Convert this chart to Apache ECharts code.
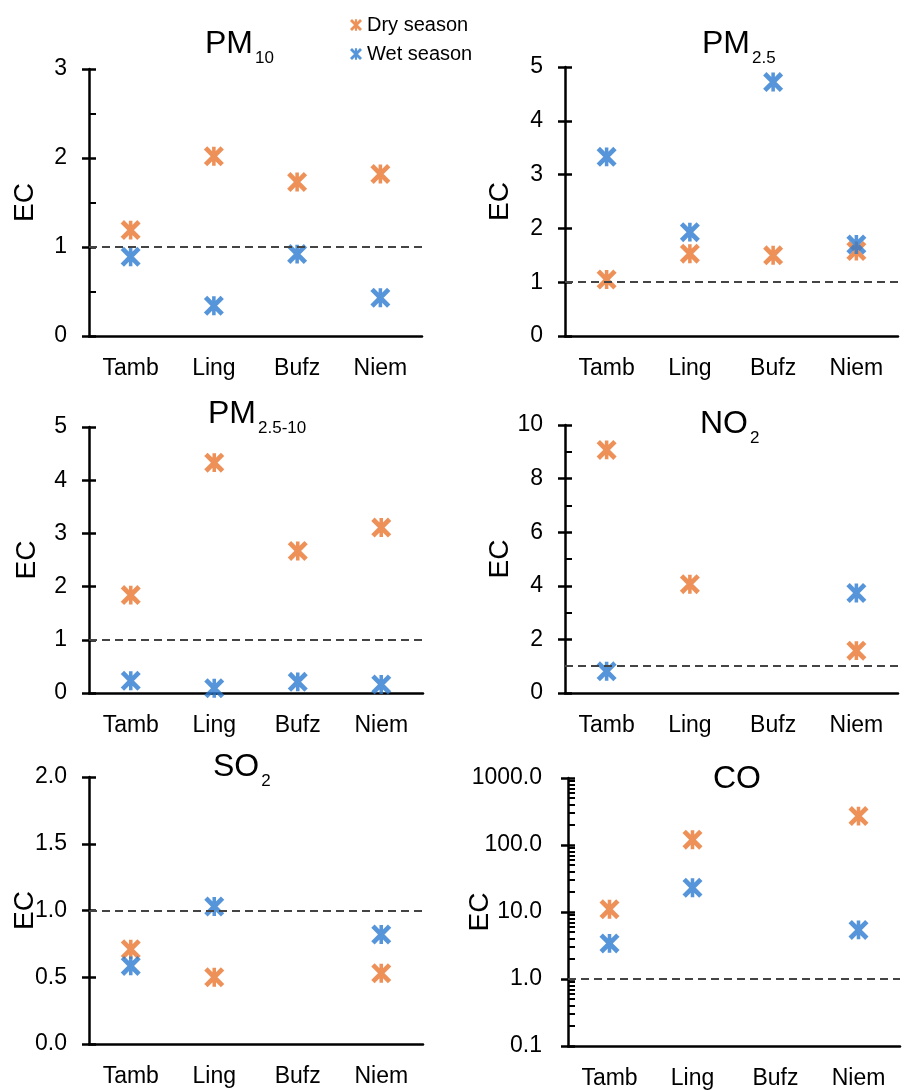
<!DOCTYPE html>
<html>
<head>
<meta charset="utf-8">
<script src="https://cdn.jsdelivr.net/npm/echarts@6/dist/echarts.min.js"></script>
<style>
html, body { margin: 0; padding: 0; background: #fff; }
#main { width: 915px; height: 1090px; }
</style>
</head>
<body>
<div id="main"></div>
<script>
var sites = ['Tamb', 'Ling', 'Bufz', 'Niem'];

var pm10Dry = [1.19, 2.02, 1.73, 1.82];
var pm10Wet = [0.89, 0.34, 0.92, 0.43];
var pm25Dry = [1.05, 1.53, 1.50, 1.58];
var pm25Wet = [3.33, 1.93, 4.72, 1.70];
var pmCoarseDry = [1.84, 4.33, 2.67, 3.11];
var pmCoarseWet = [0.23, 0.09, 0.21, 0.16];
var no2Dry = [9.07, 4.06, null, 1.58];
var no2Wet = [0.81, null, null, 3.73];
var so2Dry = [0.71, 0.50, null, 0.53];
var so2Wet = [0.585, 1.03, null, 0.82];
var coDry = [11, 120, null, 270];
var coWet = [3.4, 23, null, 5.4];

var ecLimit = 1;

var FONT = '"Liberation Sans", Arial, sans-serif';
var DRY = '#EA7630';
var WET = '#2C7ACF';
// excel "star" marker : X with a vertical bar
var STAR = 'path://M1,4 L4,1 L19,16 L16,19 Z M16,1 L19,4 L4,19 L1,16 Z M8.4,1.5 L11.6,1.5 L11.6,18.5 L8.4,18.5 Z';

// panel layout
var panels = [
	{ name: 'PM', sub: '10', tl: 205, tt: 28, grid: [89, 69, 333, 267], y: { min: 0, max: 3, interval: 1, minor: 2 }, dry: pm10Dry, wet: pm10Wet, gap: 50, lm: 22 },
	{ name: 'PM', sub: '2.5', tl: 702, tt: 28, grid: [565, 67, 333, 269], y: { min: 0, max: 5, interval: 1 }, dry: pm25Dry, wet: pm25Wet, gap: 51, lm: 22 },
	{ name: 'PM', sub: '2.5-10', tl: 208, tt: 398, grid: [89, 427, 334, 266], y: { min: 0, max: 5, interval: 1 }, dry: pmCoarseDry, wet: pmCoarseWet, gap: 48, lm: 22 },
	{ name: 'NO', sub: '2', tl: 700, tt: 408, grid: [565, 425, 333, 268], y: { min: 0, max: 10, interval: 2, minor: 2 }, dry: no2Dry, wet: no2Wet, gap: 51, lm: 22 },
	{ name: 'SO', sub: '2', tl: 213, tt: 751, grid: [89, 777, 334, 267], y: { min: 0, max: 2, interval: 0.5, fixed: 1 }, dry: so2Dry, wet: so2Wet, gap: 50, lm: 22 },
	{ name: 'CO', sub: '', tl: 713, tt: 763, grid: [568, 778, 332, 268], y: { log: true, min: 0.1, max: 1000, minor: 9, fixed: 1 }, dry: coDry, wet: coWet, gap: 74, lm: 26 }
];

var option = {
	animation: false,
	backgroundColor: '#fff',
	textStyle: { fontFamily: FONT },
	legend: {
		data: ['Dry season', 'Wet season'],
		orient: 'vertical',
		left: 345,
		top: 10,
		itemGap: 9,
		itemWidth: 12,
		itemHeight: 12,
		icon: STAR,
		textStyle: { fontSize: 20, color: '#000', fontFamily: FONT }
	},
	title: [],
	grid: [],
	xAxis: [],
	yAxis: [],
	series: []
};

panels.forEach(function(p, i) {
	option.title.push({
		text: '{a|' + p.name + '}' + (p.sub ? '{b|' + p.sub + '}' : ''),
		left: p.tl,
		top: p.tt,
		padding: 0,
		textStyle: {
			rich: {
				a: { fontSize: 32, lineHeight: 32, verticalAlign: 'top', fontWeight: 'normal', color: '#000', fontFamily: FONT },
				b: { fontSize: 17, lineHeight: 17, verticalAlign: 'top', fontWeight: 'normal', padding: [22, 0, 0, 2], color: '#000', fontFamily: FONT }
			}
		}
	});

	option.grid.push({
		left: p.grid[0],
		top: p.grid[1],
		width: p.grid[2],
		height: p.grid[3]
	});

	option.xAxis.push({
		type: 'category',
		gridIndex: i,
		data: sites,
		axisLine: { lineStyle: { color: '#000', width: 2.5 } },
		axisTick: { length: 7, lineStyle: { color: '#000', width: 2.5 } },
		axisLabel: { fontSize: 23, color: '#000', margin: 21, fontFamily: FONT },
		splitLine: { show: false }
	});

	var fmt = function(v) {
		return p.y.fixed ? Number(v).toFixed(p.y.fixed) : String(v);
	};
	var base = {
		gridIndex: i,
		position: 'left',
		min: p.y.min,
		max: p.y.max,
		splitLine: { show: false }
	};
	if (p.y.log) {
		base.type = 'log';
		base.logBase = 10;
	} else {
		base.type = 'value';
		base.interval = p.y.interval;
	}

	// y axis with labels and outside ticks
	option.yAxis.push(Object.assign({}, base, {
		name: 'EC',
		nameLocation: 'middle',
		nameGap: p.gap,
		nameMoveOverlap: false,
		nameTextStyle: { fontSize: 28, color: '#000', fontFamily: FONT },
		axisLine: { show: true, lineStyle: { color: '#000', width: 2.5 } },
		axisTick: { show: true, length: 7, lineStyle: { color: '#000', width: 2.5 } },
		axisLabel: { fontSize: 23, color: '#000', margin: p.lm, fontFamily: FONT, formatter: fmt }
	}));
	// overlay y axis: inside ticks + minor ticks
	option.yAxis.push(Object.assign({}, base, {
		axisLine: { show: false },
		axisLabel: { show: false },
		axisTick: { show: true, inside: true, length: 7, lineStyle: { color: '#000', width: 2.5 } },
		minorTick: { show: !!p.y.minor, splitNumber: p.y.minor || 5, length: 7, lineStyle: { color: '#000', width: 2 } }
	}));

	option.series.push({
		name: 'Dry season',
		type: 'scatter',
		xAxisIndex: i,
		yAxisIndex: i * 2,
		symbol: STAR,
		symbolSize: 20,
		itemStyle: { color: DRY },
		data: p.dry,
		markLine: {
			silent: true,
			symbol: 'none',
			label: { show: false },
			lineStyle: { color: '#444', type: [8, 5], width: 2 },
			data: [{ yAxis: ecLimit }]
		}
	});
	option.series.push({
		name: 'Wet season',
		type: 'scatter',
		xAxisIndex: i,
		yAxisIndex: i * 2,
		symbol: STAR,
		symbolSize: 20,
		itemStyle: { color: WET },
		data: p.wet
	});
});

var chart = echarts.init(document.getElementById('main'));
chart.setOption(option);
</script>
</body>
</html>
